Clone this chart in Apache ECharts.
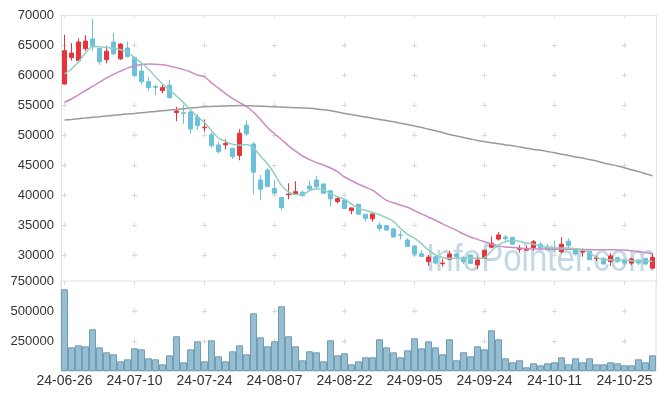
<!DOCTYPE html>
<html><head><meta charset="utf-8">
<script src="https://cdn.jsdelivr.net/npm/echarts@6/dist/echarts.min.js"></script>
<style>html,body{margin:0;padding:0;background:#fff}#c{width:665px;height:399px}</style>
</head><body><div id="c"></div>
<script>
const dates = ["24-06-26","24-06-27","24-06-28",
"24-07-01","24-07-02","24-07-03","24-07-04","24-07-05","24-07-08","24-07-09","24-07-10","24-07-11","24-07-12","24-07-15","24-07-16","24-07-17","24-07-18","24-07-19","24-07-22","24-07-23","24-07-24","24-07-25","24-07-26","24-07-29","24-07-30","24-07-31",
"24-08-01","24-08-02","24-08-05","24-08-06","24-08-07","24-08-08","24-08-09","24-08-12","24-08-13","24-08-14","24-08-16","24-08-19","24-08-20","24-08-21","24-08-22","24-08-23","24-08-26","24-08-27","24-08-28","24-08-29","24-08-30",
"24-09-02","24-09-03","24-09-04","24-09-05","24-09-06","24-09-09","24-09-10","24-09-11","24-09-12","24-09-13","24-09-19","24-09-20","24-09-23","24-09-24","24-09-25","24-09-26","24-09-27","24-09-30",
"24-10-02","24-10-04","24-10-07","24-10-08","24-10-10","24-10-11","24-10-14","24-10-15","24-10-16","24-10-17","24-10-18","24-10-21","24-10-22","24-10-23","24-10-24","24-10-25","24-10-28","24-10-29","24-10-30","24-10-31"];

const opens = [58500,62900,62400,64400,66000,64400,62550,65500,62700,64500,62900,60650,58900,58100,57400,58300,53750,53700,53850,53000,51200,50050,48350,48350,47800,46600,51650,48500,42500,44150,41100,39600,40050,40150,40450,41500,42500,41850,40700,38900,39150,37400,38450,36800,36050,35000,34900,34350,33350,32500,31500,30200,28900,29700,28550,29300,30150,29600,30000,28350,29450,31300,32650,33000,32950,30950,30800,31200,31800,31350,31150,30550,32300,31000,30500,30650,29400,29450,28900,29550,29150,28650,29150,29400,27800];
const closes = [64050,63650,65500,65650,64800,62200,63950,63500,65150,63100,59900,58900,57900,57950,57900,56200,54000,53600,51000,51550,51300,48200,47200,48600,46400,50300,50200,43800,40950,41400,40300,37900,40150,40550,39900,41000,41400,40300,39350,39400,37750,37850,36800,36100,36850,34400,34150,33000,33300,31400,30150,29750,29650,28650,28650,30150,29700,28900,28600,29150,30800,31950,33350,32700,31800,31100,31100,32200,31200,30850,31050,31800,31550,30150,30650,29200,29500,28500,29850,28900,28650,29350,28650,28500,29600];
const lows = [58400,62400,62300,64050,64000,61700,61950,63400,62500,62950,59600,58400,57400,56700,56950,56150,52300,51800,50300,50850,50550,47900,46950,47600,46000,45800,49850,40100,39150,41350,40100,37500,39300,40000,39700,40700,40950,40250,38050,38600,37650,36800,36750,35550,35550,33900,34100,32950,32600,31350,29700,29700,28200,28400,28050,29250,29500,28500,28550,27600,29400,31100,32400,32350,31650,30400,30750,30700,30850,30800,30700,30300,31100,29950,29700,29150,29000,28450,28200,28700,28300,28300,28300,28300,27800];
const highs = [66700,65300,66100,66650,69300,64500,64900,67000,65300,65600,63100,62200,59600,58400,58350,59150,54700,55000,53900,53500,52600,50450,48900,49300,47800,50950,52400,48800,43350,44450,42500,39650,41950,42300,40800,42400,43200,41850,40800,39600,39200,37900,38500,36800,36900,35450,34950,34550,34000,32800,31700,30800,30000,29800,29350,30700,30300,29800,30050,29700,30900,33100,33800,33350,33000,31650,31550,32500,32150,31850,32400,32950,32800,31050,31100,30700,29900,29600,30300,29700,29350,29550,29350,29500,30300];

const ma5 = [60200,61000,62200,63700,64700,64700,64600,64450,64200,63800,62900,62000,61000,59700,58500,57500,56500,55400,54200,53000,52100,50700,49500,48950,48450,48300,48400,47800,46500,45200,43500,41600,40500,40100,40100,40700,41100,40800,40300,39700,39300,38500,37800,37450,37100,36700,36200,35600,34400,33450,32800,31900,30800,30000,29600,29450,29450,29450,29450,29450,29550,30700,31700,32200,32400,32300,32000,31800,31500,31300,31200,31150,31150,31050,30850,30400,29600,29250,29200,29150,29150,29050,29000,29000,28950];
const ma20 = [55450,56000,56700,57400,58100,58800,59500,60100,60650,61150,61500,61750,61850,61800,61700,61500,61200,60900,60500,60000,59700,58700,57800,56900,56100,55400,54750,53800,52600,51250,50200,49250,48200,47300,46500,45900,45400,45000,44500,43900,43000,42400,41800,41300,40800,39950,39100,38700,38300,37950,37400,36850,36300,35800,35200,34650,34100,33500,33000,32600,32200,31800,31500,31350,31250,31150,31050,31000,31000,30980,30970,30960,30950,30950,30930,30900,30880,30870,30860,30850,30820,30700,30550,30400,30200];
const ma120 = [52500,52600,52720,52830,52950,53060,53170,53280,53390,53500,53600,53710,53820,53930,54040,54150,54260,54370,54480,54600,54700,54750,54800,54850,54880,54900,54880,54850,54800,54750,54700,54650,54600,54550,54500,54450,54350,54200,54050,53850,53600,53400,53200,53000,52800,52600,52400,52200,51950,51750,51500,51250,50950,50700,50400,50100,49850,49600,49350,49100,48900,48700,48550,48350,48200,48000,47800,47600,47450,47250,47050,46800,46600,46350,46150,45900,45650,45350,45100,44850,44550,44200,43900,43550,43200];
const volumes = [680800,197500,214000,205800,347500,197500,155800,139000,80800,97500,189000,180800,105800,97500,55800,130800,289000,72500,180800,247500,80800,255800,122500,80800,164200,214000,139000,480800,280800,205800,247500,539200,289000,205800,89200,164200,155800,80800,255800,130800,147500,55800,80800,114200,114200,264200,197500,155800,114200,172500,272500,189000,247500,197500,139000,264200,89200,155800,122500,205800,180800,339200,264200,105800,72500,89200,30800,64200,47500,64200,72500,114200,55800,105800,72500,105800,55800,55800,72500,64200,47500,47500,97500,72500,130800];

const candles = opens.map((o, i) => [o, closes[i], lows[i], highs[i]]);
const FONT = "'Liberation Sans', Arial, sans-serif";
const crossColor = '#d9d9d9';
const plain = v => String(v);
const chart = echarts.init(document.getElementById('c'), null, {renderer: 'canvas'});
chart.setOption({
  animation: false,
  backgroundColor: '#fff',
  grid: [
    {left: 61, width: 595, top: 15, height: 270},
    {left: 61, width: 595, top: 281, height: 90, show: true, borderColor: '#e2e2e2', borderWidth: 1, backgroundColor: 'transparent'}
  ],
  graphic: [{
    type: 'text', x: 426, y: 242, scaleX: 0.87, z: 0, silent: true,
    style: {text: 'InfoPointer.com', font: "38px 'Liberation Sans', Arial, sans-serif", fill: 'rgba(175,203,220,0.75)', verticalAlign: 'top'}
  }],
  xAxis: [
    {type: 'category', gridIndex: 0, data: dates, position: 'top', boundaryGap: true,
     axisLine: {show: true, lineStyle: {color: '#e2e2e2'}}, axisTick: {show: false}, axisLabel: {show: false},
     splitLine: {show: true, interval: 9, alignWithLabel: true, lineStyle: {color: crossColor, width: 1, type: [5, 25], dashOffset: 2.5}}},
    {type: 'category', gridIndex: 1, data: dates, boundaryGap: true,
     axisLine: {show: true, lineStyle: {color: '#e2e2e2'}}, axisTick: {show: false},
     axisLabel: {interval: 9, fontSize: 14, color: '#333', margin: 3, fontFamily: FONT},
     splitLine: {show: true, interval: 9, alignWithLabel: true, lineStyle: {color: crossColor, width: 1, type: [5, 25], dashOffset: 2.5}}}
  ],
  yAxis: [
    {type: 'value', gridIndex: 0, min: 25000, max: 70000, interval: 5000,
     axisLine: {show: true, lineStyle: {color: '#e2e2e2'}}, axisTick: {show: false},
     axisLabel: {showMinLabel: false, fontSize: 13, color: '#333', margin: 7, fontFamily: FONT, formatter: plain},
     splitLine: {show: true, showMinLine: false, showMaxLine: false, lineStyle: {color: crossColor, width: 1, type: [5, 65], dashOffset: 69}}},
    {type: 'value', gridIndex: 0, min: 25000, max: 70000, interval: 5000, position: 'right',
     axisLine: {show: true, lineStyle: {color: '#e2e2e2'}}, axisTick: {show: false}, axisLabel: {show: false}, splitLine: {show: false}},
    {type: 'value', gridIndex: 1, min: 0, max: 750000, interval: 250000,
     axisLine: {show: true, lineStyle: {color: '#e2e2e2'}}, axisTick: {show: false},
     axisLabel: {showMinLabel: false, fontSize: 13, color: '#333', margin: 7, fontFamily: FONT, formatter: plain},
     splitLine: {show: true, showMinLine: false, showMaxLine: false, lineStyle: {color: crossColor, width: 1, type: [5, 65], dashOffset: 69}}}
  ],
  series: [
    {name: 'price', type: 'candlestick', xAxisIndex: 0, yAxisIndex: 0, data: candles, barWidth: 5, z: 3,
     itemStyle: {color: '#e8333a', color0: '#6cc0d9', borderColor: '#e8333a', borderColor0: '#6cc0d9', borderWidth: 1}},
    {name: 'MA120', type: 'line', xAxisIndex: 0, yAxisIndex: 0, data: ma120, smooth: 0.3, symbol: 'none', z: 4,
     lineStyle: {color: '#9a9a9a', width: 1.5}},
    {name: 'MA20', type: 'line', xAxisIndex: 0, yAxisIndex: 0, data: ma20, smooth: 0.3, symbol: 'none', z: 4,
     lineStyle: {color: '#c98cc6', width: 1.5}},
    {name: 'MA5', type: 'line', xAxisIndex: 0, yAxisIndex: 0, data: ma5, smooth: 0.3, symbol: 'none', z: 4,
     lineStyle: {color: '#8fd0c2', width: 1.5}},
    {name: 'volume', type: 'bar', xAxisIndex: 1, yAxisIndex: 2, data: volumes, barCategoryGap: 0, z: 3,
     itemStyle: {color: 'rgba(137,180,201,0.88)', borderColor: '#6e9db6', borderWidth: 1}}
  ]
});
</script></body></html>
